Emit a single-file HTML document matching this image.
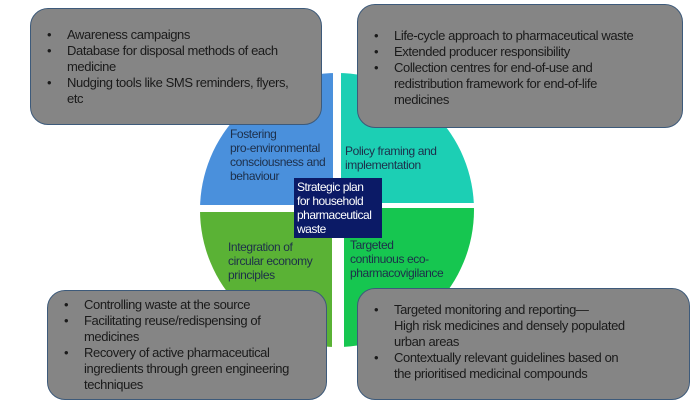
<!DOCTYPE html>
<html><head><meta charset="utf-8"><style>
body{margin:0;width:700px;height:410px;background:#fff;position:relative;overflow:hidden;font-family:"Liberation Sans",sans-serif;}
.box{position:absolute;background:#858585;border:1.5px solid #3d5a7a;border-radius:18px;box-sizing:border-box;color:#1a1a1a;font-size:13px;line-height:16px;letter-spacing:-0.4px;white-space:nowrap;}
.box ul{margin:0;padding:0;list-style:none;}
.box li{position:relative;padding-left:36px;}
.box li:before{content:"•";position:absolute;left:16px;top:0;}
.lab{position:absolute;font-size:12px;line-height:14px;color:#1d2f4a;letter-spacing:-0.4px;}
.ctr{position:absolute;left:294px;top:178px;width:88px;height:60px;background:#0b1a66;color:#fff;font-size:12px;line-height:14px;box-sizing:border-box;padding:2px 3px;letter-spacing:-0.5px;}
</style></head><body>
<svg width="700" height="410" style="position:absolute;left:0;top:0">
<defs><clipPath id="c"><circle cx="337" cy="210" r="137"/></clipPath></defs>
<g clip-path="url(#c)">
<rect x="190" y="60" width="143" height="145" fill="#4a90dc"/>
<rect x="341" y="60" width="145" height="143" fill="#1ccfb4"/>
<rect x="190" y="212" width="142" height="152" fill="#5ab235"/>
<rect x="344" y="208" width="145" height="152" fill="#16c650"/>
</g>
</svg>
<div class="lab" style="left:230px;top:127px;">Fostering<br>pro-environmental<br>consciousness and<br>behaviour</div>
<div class="lab" style="left:345px;top:144px;">Policy framing and<br>implementation</div>
<div class="lab" style="left:228px;top:240px;">Integration of<br>circular economy<br>principles</div>
<div class="lab" style="left:350px;top:238px;">Targeted<br>continuous eco-<br>pharmacovigilance</div>
<div class="ctr">Strategic plan<br>for household<br>pharmaceutical<br>waste</div>
<div class="box" style="left:30px;top:8px;width:292px;height:117px;padding-top:18px;"><ul>
<li>Awareness campaigns</li><li>Database for disposal methods of each<br>medicine</li><li>Nudging tools like SMS reminders, flyers,<br>etc</li></ul></div>
<div class="box" style="left:357px;top:4px;width:326px;height:124px;padding-top:23px;"><ul>
<li>Life-cycle approach to pharmaceutical waste</li><li>Extended producer responsibility</li><li>Collection centres for end-of-use and<br>redistribution framework for end-of-life<br>medicines</li></ul></div>
<div class="box" style="left:47px;top:290px;width:280px;height:110px;padding-top:6px;"><ul>
<li>Controlling waste at the source</li><li>Facilitating reuse/redispensing of<br>medicines</li><li>Recovery of active pharmaceutical<br>ingredients through green engineering<br>techniques</li></ul></div>
<div class="box" style="left:357px;top:288px;width:333px;height:112px;padding-top:13px;"><ul>
<li>Targeted monitoring and reporting—<br>High risk medicines and densely populated<br>urban areas</li><li>Contextually relevant guidelines based on<br>the prioritised medicinal compounds</li></ul></div>
</body></html>
